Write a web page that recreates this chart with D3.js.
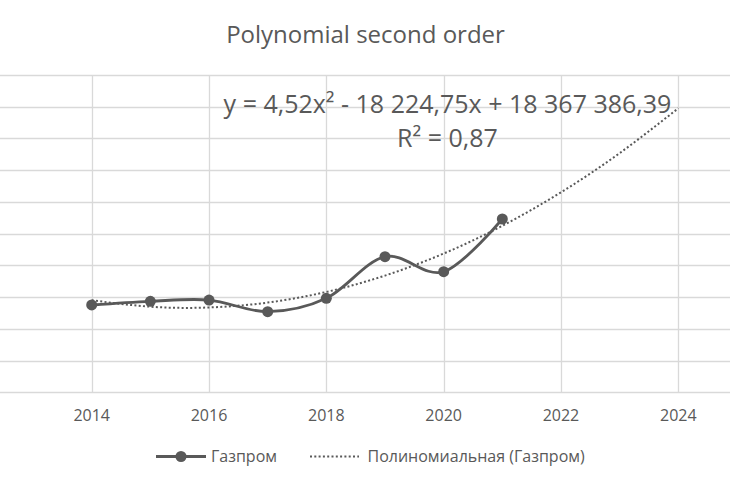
<!DOCTYPE html>
<html>
<head>
<meta charset="utf-8">
<script src="https://cdn.jsdelivr.net/npm/d3@7"></script>
<style>
  html, body { margin: 0; padding: 0; background: #fff; }
  svg { display: block; font-family: 'Open Sans', sans-serif; }
  .grid line { stroke: #d9d9d9; stroke-width: 1.3; }
  text { fill: #595959; }
</style>
</head>
<body>
<svg id="chart" width="730" height="486"></svg>
<script>
const years = [2014, 2015, 2016, 2017, 2018, 2019, 2020, 2021];
const values = [137.6, 143.4, 145.4, 127.0, 148.1, 213.7, 190.0, 273.1];
const trend_years = [2014, 2015, 2016, 2017, 2018, 2019, 2020, 2021, 2022, 2023, 2024];
const x_ticks = [2014, 2016, 2018, 2020, 2022, 2024];
const series_name = 'Газпром';
const trend_name = 'Полиномиальная (Газпром)';
const title = 'Polynomial second order';
const equation = ['y = 4,52x² - 18 224,75x + 18 367 386,39', 'R² = 0,87'];

const W = 730, H = 486;
const line_color = '#595959';

// least squares fit of a second order polynomial (same as the Excel trendline)
const fit = function (xs, ys) {
  const x0 = d3.mean(xs);
  const u = xs.map(x => x - x0);
  const n = xs.length;
  const s = k => d3.sum(u, d => d ** k);
  const sy = k => d3.sum(u, (d, i) => d ** k * ys[i]);
  // solve 3x3 normal equations with Cramer's rule
  const M = [[n, s(1), s(2)], [s(1), s(2), s(3)], [s(2), s(3), s(4)]];
  const R = [sy(0), sy(1), sy(2)];
  const det = m => m[0][0] * (m[1][1] * m[2][2] - m[1][2] * m[2][1])
    - m[0][1] * (m[1][0] * m[2][2] - m[1][2] * m[2][0])
    + m[0][2] * (m[1][0] * m[2][1] - m[1][1] * m[2][0]);
  const D = det(M);
  const coef = [0, 1, 2].map(j => det(M.map((row, i) => row.map((v, k) => k === j ? R[i] : v))) / D);
  return x => coef[0] + coef[1] * (x - x0) + coef[2] * (x - x0) ** 2;
};
const poly = fit(years, values);

const svg = d3.select('#chart');

const x = d3.scaleLinear().domain([2014, 2024]).range([91.7, 678.3]);
const y = d3.scaleLinear().domain([0, 500]).range([392.3, 75]);

// gridlines
const grid = svg.append('g').attr('class', 'grid');
grid.selectAll('line.h')
  .data(y.ticks(10))
  .join('line')
  .attr('class', 'h')
  .attr('x1', 0).attr('x2', W)
  .attr('y1', d => Math.round(y(d)) + 0.5)
  .attr('y2', d => Math.round(y(d)) + 0.5);
grid.selectAll('line.v')
  .data(x_ticks)
  .join('line')
  .attr('class', 'v')
  .attr('x1', d => Math.round(x(d)) + 0.5)
  .attr('x2', d => Math.round(x(d)) + 0.5)
  .attr('y1', y(500)).attr('y2', y(0));

// x tick labels
svg.append('g').selectAll('text')
  .data(x_ticks)
  .join('text')
  .attr('x', d => x(d))
  .attr('y', 421)
  .attr('text-anchor', 'middle')
  .attr('font-size', 16)
  .text(d => d);

// trendline
svg.append('path')
  .datum(trend_years)
  .attr('fill', 'none')
  .attr('stroke', line_color)
  .attr('stroke-width', 2)
  .attr('stroke-dasharray', '2 2.3')
  .attr('d', d3.line().x(d => x(d)).y(d => y(poly(d))).curve(d3.curveNatural));

// data series
const pts = years.map((d, i) => ({ year: d, value: values[i] }));
svg.append('path')
  .datum(pts)
  .attr('fill', 'none')
  .attr('stroke', line_color)
  .attr('stroke-width', 2.8)
  .attr('stroke-linecap', 'round')
  .attr('d', d3.line().x(d => x(d.year)).y(d => y(d.value)).curve(d3.curveCardinal.tension(0)));
svg.append('g').selectAll('circle')
  .data(pts)
  .join('circle')
  .attr('cx', d => x(d.year))
  .attr('cy', d => y(d.value))
  .attr('r', 5.5)
  .attr('fill', line_color);

// title
svg.append('text')
  .attr('x', 365.5).attr('y', 43)
  .attr('text-anchor', 'middle')
  .attr('font-size', 24)
  .text(title);

// equation label
svg.append('g').selectAll('text')
  .data(equation)
  .join('text')
  .attr('x', 447.5)
  .attr('y', (d, i) => 113 + i * 34)
  .attr('text-anchor', 'middle')
  .attr('font-size', 25)
  .text(d => d);

// legend
const legend = svg.append('g');
legend.append('line')
  .attr('x1', 156).attr('x2', 206).attr('y1', 456.5).attr('y2', 456.5)
  .attr('stroke', line_color).attr('stroke-width', 2.8);
legend.append('circle')
  .attr('cx', 181).attr('cy', 456.5).attr('r', 5.5).attr('fill', line_color);
legend.append('text')
  .attr('x', 211).attr('y', 462).attr('font-size', 16).text(series_name);
legend.append('line')
  .attr('x1', 310).attr('x2', 359).attr('y1', 456.5).attr('y2', 456.5)
  .attr('stroke', line_color).attr('stroke-width', 2).attr('stroke-dasharray', '2 2.3');
legend.append('text')
  .attr('x', 367.5).attr('y', 462).attr('font-size', 16).text(trend_name);
</script>
</body>
</html>
